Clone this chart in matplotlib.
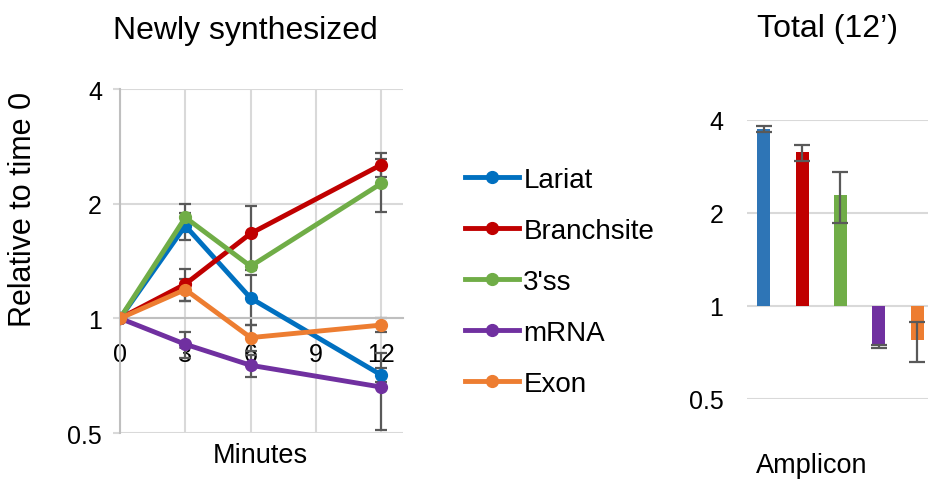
import numpy as np
import matplotlib
matplotlib.use("Agg")
import matplotlib.pyplot as plt
from matplotlib.ticker import NullLocator

plt.rcParams['font.family'] = ['Liberation Sans', 'DejaVu Sans']

# ---- data ----
minutes = [0, 3, 6, 12]
series_names = ['Lariat', 'Branchsite', "3'ss", 'mRNA', 'Exon']
lariat      = [1.0, 1.75, 1.13, 0.71]
branchsite  = [1.0, 1.23, 1.67, 2.53]
ss3         = [1.0, 1.84, 1.37, 2.26]
mrna        = [1.0, 0.855, 0.753, 0.66]
exon        = [1.0, 1.19, 0.89, 0.96]
lariat_err     = [0, 0.14, 0.17, 0.03]
branchsite_err = [0, 0.12, 0.30, 0.18]
ss3_err        = [0, 0.15, 0.03, 0.36]
mrna_err       = [0, 0.067, 0.05, 0.15]
exon_err       = [0, 0.08, 0.07, 0.04]

total_vals = [3.75, 3.14, 2.29, 0.74, 0.775]
total_err  = [0.08, 0.19, 0.43, 0.01, 0.115]

line_colors = ['#0070C0', '#C00000', '#70AD47', '#7030A0', '#ED7D31']
bar_colors  = ['#2E75B6', '#C00000', '#70AD47', '#7030A0', '#ED7D31']
grid_c = '#D9D9D9'
err_c = '#595959'

W, H = 929, 485
fig = plt.figure(figsize=(W / 100, H / 100), dpi=100)

# ---- left: newly synthesized ----
ax = fig.add_axes([120 / W, 1 - 434 / H, (403 - 120) / W, (434 - 90) / H])
ax.set_yscale('log', base=2)
ax.set_ylim(0.5, 4)
ax.set_xlim(0, 13)

all_y = [lariat, branchsite, ss3, mrna, exon]
all_e = [lariat_err, branchsite_err, ss3_err, mrna_err, exon_err]
for name, ys, es, c in zip(series_names, all_y, all_e, line_colors):
    ax.errorbar(minutes, ys, yerr=es, fmt='none', ecolor=err_c, elinewidth=1.6,
                capsize=4.5, capthick=1.6, zorder=2)
for name, ys, c in zip(series_names, all_y, line_colors):
    ax.plot(minutes, ys, '-o', color=c, lw=3.5, ms=8.5, label=name, zorder=3)

ax.set_yticks([0.5, 1, 2, 4])
ax.set_yticklabels(['0.5', '1', '2', '4'])
ax.yaxis.set_minor_locator(NullLocator())
ax.set_xticks([0, 3, 6, 9, 12])
ax.set_xticklabels(['0', '3', '6', '9', '12'])
ax.grid(True, color=grid_c, lw=1.5, zorder=0)
ax.set_axisbelow(True)
for s in ['top', 'right']:
    ax.spines[s].set_visible(False)
ax.spines['left'].set_color('#BFBFBF')
ax.spines['left'].set_linewidth(1.5)
ax.spines['bottom'].set_position(('data', 1))
ax.spines['bottom'].set_color('#BFBFBF')
ax.spines['bottom'].set_linewidth(1.5)
ax.tick_params(axis='y', length=5, width=1.5, color=grid_c, pad=8, labelsize=18)
ax.tick_params(axis='x', length=0, pad=17, labelsize=18)

fig.text(260 / W, 1 - 463 / H, 'Minutes', ha='center', va='baseline', fontsize=19.5)
fig.text(245 / W, 1 - 39 / H, 'Newly synthesized', ha='center', va='baseline', fontsize=23)
fig.text(23 / W, 1 - 209 / H, 'Relative to time 0', ha='center', va='center',
         rotation=90, fontsize=22)

leg = ax.legend(loc='upper left', bbox_to_anchor=(465 / W, 1 - 168 / H),
                bbox_transform=fig.transFigure, frameon=False, fontsize=20,
                handlelength=1.95, handletextpad=0.15, labelspacing=0.9,
                borderpad=0, borderaxespad=0)

# ---- right: total (12') ----
ax2 = fig.add_axes([747 / W, 1 - 400 / H, (929 - 747) / W, (400 - 121) / H])
ax2.set_yscale('log', base=2)
ax2.set_ylim(0.5, 4)
xb = np.arange(len(total_vals))
ax2.bar(xb, np.array(total_vals) - 1, bottom=1, width=0.34, color=bar_colors, zorder=2)
ax2.errorbar(xb, total_vals, yerr=total_err, fmt='none', ecolor=err_c, elinewidth=1.6,
             capsize=6, capthick=1.6, zorder=3)
ax2.set_xlim(-0.44, 4.31)
ax2.set_yticks([0.5, 1, 2, 4])
ax2.set_yticklabels(['0.5', '1', '2', '4'])
ax2.yaxis.set_minor_locator(NullLocator())
ax2.set_xticks([])
ax2.grid(True, axis='y', color=grid_c, lw=1.5, zorder=0)
ax2.set_axisbelow(True)
for s in ax2.spines.values():
    s.set_visible(False)
ax2.tick_params(axis='y', length=0, pad=17, labelsize=18)

fig.text(828 / W, 1 - 37 / H, 'Total (12\u2019)', ha='center', va='baseline', fontsize=23)
fig.text(812 / W, 1 - 473 / H, 'Amplicon', ha='center', va='baseline', fontsize=19.5)

fig.savefig('out.png', dpi=100)
